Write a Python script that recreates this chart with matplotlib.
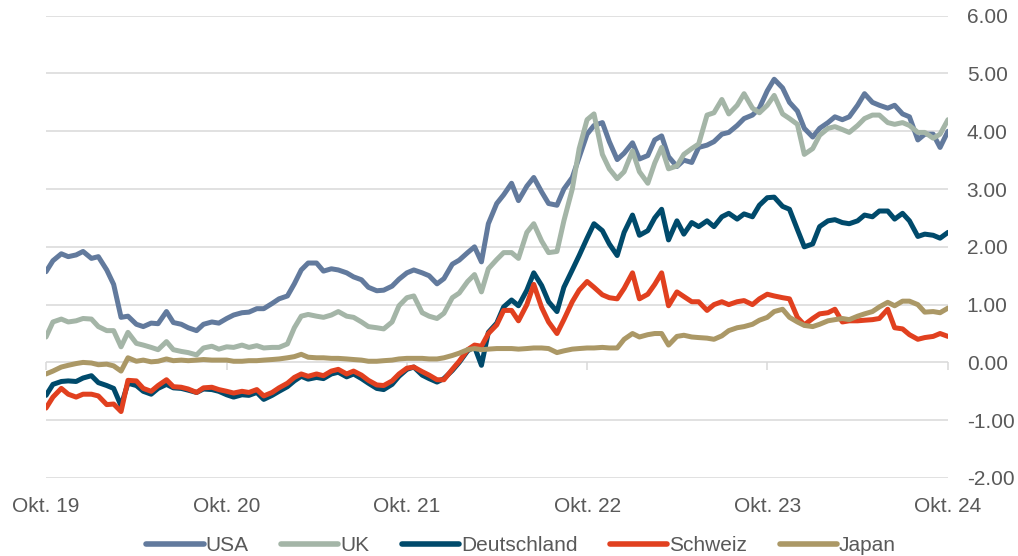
import pandas as pd
import matplotlib
matplotlib.use("Agg")
import matplotlib.pyplot as plt

plt.rcParams['font.family'] = ['Liberation Sans', 'DejaVu Sans']

# Halbmonatliche Werte Okt. 2019 - Okt. 2024 (Rendite 10j. Staatsanleihen, %)
dates = pd.date_range("2019-10-01", "2024-10-01", freq="SMS")

usa = [1.57, 1.76, 1.88, 1.83, 1.86, 1.92, 1.80, 1.83, 1.60, 1.35, 0.78, 0.80, 0.66, 0.62, 0.68, 0.67, 0.88, 0.69, 0.66, 0.60, 0.55, 0.66, 0.70, 0.68, 0.76,
       0.82, 0.86, 0.87, 0.93, 0.93, 1.02, 1.10, 1.15, 1.36, 1.60, 1.72, 1.72, 1.58, 1.62, 1.60, 1.55, 1.48, 1.43, 1.30, 1.24, 1.25, 1.32, 1.44, 1.55,
       1.60, 1.55, 1.50, 1.36, 1.45, 1.70, 1.77, 1.90, 2.00, 1.74, 2.40, 2.75, 2.90, 3.10, 2.80, 3.05, 3.20, 2.95, 2.75, 2.72, 3.00, 3.20, 3.55, 3.95,
       4.10, 4.15, 3.82, 3.51, 3.62, 3.80, 3.52, 3.58, 3.85, 3.92, 3.56, 3.39, 3.50, 3.46, 3.72, 3.76, 3.82, 3.95, 3.98, 4.10, 4.22, 4.28, 4.40, 4.70,
       4.90, 4.75, 4.50, 4.35, 4.05, 3.90, 4.05, 4.15, 4.25, 4.20, 4.25, 4.45, 4.65, 4.50, 4.45, 4.40, 4.45, 4.30, 4.25, 3.85, 3.95, 3.95, 3.72, 4.00]

uk = [0.44, 0.70, 0.75, 0.70, 0.72, 0.76, 0.75, 0.62, 0.55, 0.55, 0.27, 0.52, 0.33, 0.30, 0.26, 0.22, 0.36, 0.22, 0.19, 0.17, 0.13, 0.25, 0.28, 0.23, 0.27,
      0.26, 0.30, 0.26, 0.29, 0.25, 0.26, 0.26, 0.32, 0.60, 0.80, 0.83, 0.80, 0.78, 0.82, 0.88, 0.80, 0.78, 0.70, 0.62, 0.60, 0.58, 0.70, 0.98, 1.12,
      1.15, 0.86, 0.80, 0.76, 0.85, 1.12, 1.20, 1.40, 1.52, 1.22, 1.62, 1.78, 1.90, 1.90, 1.80, 2.25, 2.40, 2.10, 1.90, 1.92, 2.45, 3.00, 3.70, 4.20,
      4.30, 3.60, 3.35, 3.18, 3.30, 3.66, 3.30, 3.10, 3.45, 3.72, 3.35, 3.40, 3.60, 3.70, 3.78, 4.28, 4.32, 4.55, 4.30, 4.45, 4.65, 4.40, 4.32, 4.45,
      4.62, 4.30, 4.22, 4.12, 3.60, 3.70, 3.93, 4.05, 4.08, 4.03, 3.98, 4.10, 4.22, 4.28, 4.28, 4.15, 4.12, 4.15, 4.10, 3.98, 3.98, 3.88, 3.95, 4.20]

deutschland = [-0.57, -0.38, -0.33, -0.32, -0.33, -0.27, -0.23, -0.35, -0.40, -0.45, -0.75, -0.36, -0.40, -0.50, -0.55, -0.45, -0.38, -0.44, -0.45, -0.48, -0.52, -0.46, -0.47, -0.50, -0.56,
               -0.60, -0.56, -0.57, -0.52, -0.64, -0.57, -0.50, -0.42, -0.32, -0.24, -0.29, -0.26, -0.28, -0.20, -0.17, -0.25, -0.20, -0.28, -0.36, -0.45, -0.47, -0.38, -0.24, -0.12,
               -0.08, -0.22, -0.28, -0.34, -0.28, -0.14, 0.00, 0.20, 0.27, -0.05, 0.52, 0.68, 0.96, 1.08, 0.98, 1.25, 1.55, 1.33, 1.05, 0.88, 1.30, 1.60, 1.85, 2.15,
               2.40, 2.28, 2.05, 1.85, 2.25, 2.55, 2.20, 2.28, 2.50, 2.65, 2.12, 2.45, 2.22, 2.42, 2.35, 2.45, 2.35, 2.52, 2.58, 2.48, 2.57, 2.52, 2.72, 2.85,
               2.86, 2.70, 2.65, 2.30, 2.00, 2.05, 2.35, 2.45, 2.47, 2.42, 2.40, 2.45, 2.55, 2.52, 2.62, 2.62, 2.48, 2.58, 2.45, 2.18, 2.22, 2.20, 2.15, 2.25]

schweiz = [-0.79, -0.60, -0.45, -0.55, -0.60, -0.55, -0.55, -0.58, -0.73, -0.72, -0.85, -0.31, -0.32, -0.45, -0.50, -0.40, -0.30, -0.42, -0.43, -0.46, -0.52, -0.44, -0.43, -0.47, -0.50,
           -0.53, -0.50, -0.52, -0.47, -0.58, -0.52, -0.44, -0.36, -0.26, -0.20, -0.24, -0.20, -0.23, -0.15, -0.12, -0.20, -0.15, -0.22, -0.31, -0.39, -0.40, -0.32, -0.20, -0.10,
           -0.08, -0.16, -0.22, -0.30, -0.30, -0.12, 0.02, 0.22, 0.30, 0.28, 0.50, 0.65, 0.90, 0.90, 0.72, 1.00, 1.35, 0.95, 0.70, 0.50, 0.74, 1.05, 1.25, 1.40,
           1.30, 1.17, 1.12, 1.10, 1.28, 1.55, 1.10, 1.18, 1.35, 1.55, 0.98, 1.22, 1.14, 1.05, 1.05, 0.90, 1.00, 1.05, 1.00, 1.05, 1.07, 1.00, 1.10, 1.18,
           1.15, 1.12, 1.10, 0.78, 0.65, 0.76, 0.84, 0.86, 0.92, 0.70, 0.72, 0.72, 0.73, 0.74, 0.76, 0.92, 0.60, 0.58, 0.48, 0.40, 0.43, 0.45, 0.50, 0.45]

japan = [-0.20, -0.15, -0.08, -0.05, -0.02, 0.00, -0.01, -0.04, -0.03, -0.06, -0.15, 0.08, 0.02, 0.04, 0.01, 0.02, 0.06, 0.03, 0.04, 0.03, 0.04, 0.05, 0.04, 0.04, 0.04,
         0.02, 0.02, 0.03, 0.03, 0.04, 0.05, 0.06, 0.08, 0.10, 0.14, 0.09, 0.08, 0.08, 0.07, 0.07, 0.06, 0.05, 0.04, 0.02, 0.02, 0.03, 0.04, 0.06, 0.07,
         0.07, 0.07, 0.06, 0.06, 0.08, 0.12, 0.16, 0.22, 0.24, 0.22, 0.23, 0.24, 0.24, 0.24, 0.23, 0.24, 0.25, 0.25, 0.24, 0.17, 0.20, 0.23, 0.24, 0.25,
         0.25, 0.26, 0.25, 0.25, 0.40, 0.50, 0.44, 0.48, 0.50, 0.50, 0.30, 0.45, 0.47, 0.44, 0.43, 0.42, 0.40, 0.46, 0.55, 0.60, 0.62, 0.66, 0.73, 0.78,
         0.88, 0.92, 0.78, 0.70, 0.64, 0.62, 0.66, 0.72, 0.74, 0.76, 0.74, 0.80, 0.84, 0.88, 0.96, 1.04, 0.98, 1.06, 1.06, 1.00, 0.87, 0.88, 0.86, 0.94]

series_names = ["USA", "UK", "Deutschland", "Schweiz", "Japan"]
colors = ["#627a9d", "#a4b5a7", "#004a6b", "#e1401f", "#ab9866"]

tick_dates = pd.to_datetime(["2019-10-01", "2020-10-01", "2021-10-01", "2022-10-01", "2023-10-01", "2024-10-01"])
tick_labels = ["Okt. 19", "Okt. 20", "Okt. 21", "Okt. 22", "Okt. 23", "Okt. 24"]
y_ticks = [-2, -1, 0, 1, 2, 3, 4, 5, 6]

fig = plt.figure(figsize=(10.18, 5.56), dpi=100)
ax = fig.add_axes([0.0452, 0.1403, 0.886, 0.8315])

for name, vals, col in zip(series_names, [usa, uk, deutschland, schweiz, japan], colors):
    ax.plot(dates, vals, color=col, lw=3.6, label=name,
            solid_joinstyle="round", solid_capstyle="round")

ax.set_xlim(tick_dates[0], tick_dates[-1])
ax.set_ylim(-2, 6)
ax.set_yticks(y_ticks)
ax.set_yticklabels([f"{v:.2f}" for v in y_ticks])
ax.yaxis.tick_right()
ax.grid(axis="y", color="#d9d9d9", lw=1.1)
ax.set_axisbelow(True)
for s in ax.spines.values():
    s.set_visible(False)

ax.set_xticks(tick_dates)
ax.set_xticklabels(tick_labels)
ax.tick_params(axis="x", length=0, pad=14, labelsize=15, labelcolor="#595959")
ax.tick_params(axis="y", length=0, pad=13.5, labelsize=15, labelcolor="#595959")
for lab in ax.get_yticklabels():
    lab.set_horizontalalignment("left")

# kleine Tickstriche an der Nulllinie
sec = ax.secondary_xaxis(0.25)
sec.set_xticks(tick_dates)
sec.tick_params(axis="x", direction="out", length=6, width=1.1, color="#d9d9d9", labelbottom=False)
sec.spines["bottom"].set_visible(False)

fig.legend(loc="center", bbox_to_anchor=(0.512, 0.019), ncol=5, frameon=False,
           fontsize=15, handlelength=2.75, handletextpad=0.1, columnspacing=1.55,
           labelcolor="#595959")
for lh in fig.legends[0].get_lines():
    lh.set_linewidth(4.0)

fig.savefig("out.png", dpi=100)
